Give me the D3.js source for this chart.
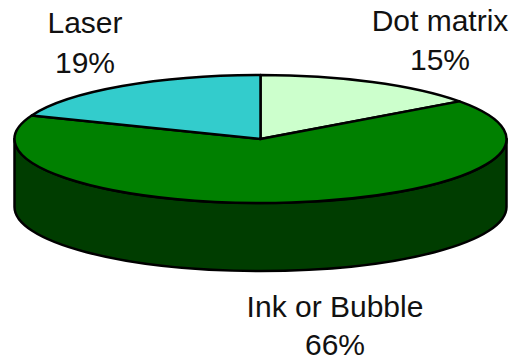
<!DOCTYPE html>
<html><head><meta charset="utf-8">
<script src="https://d3js.org/d3.v7.min.js"></script>
<style>html,body{margin:0;padding:0;background:#fff}svg{display:block}text{font-family:"Liberation Sans",Arial,sans-serif;font-size:30px;fill:#111}</style>
</head><body><script>
const categories = ["Dot matrix", "Ink or Bubble", "Laser"];
const values = [15, 66, 19];
const colors = ["#ccffcc", "#008000", "#33cccc"];
const sideColor = "#003d00";
const labelLines = [["Dot matrix","15%"],["Ink or Bubble","66%"],["Laser","19%"]];

const W=512,H=361,cx=260.5,cy=139,rx=246,ry=64,depth=68;
const svg=d3.select("body").append("svg").attr("width",W).attr("height",H);

svg.append("path")
  .attr("d",`M${cx-rx},${cy}A${rx},${ry} 0 0 0 ${cx+rx},${cy}L${cx+rx},${cy+depth}A${rx},${ry} 0 0 1 ${cx-rx},${cy+depth}Z`)
  .attr("fill",sideColor).attr("stroke","#000").attr("stroke-width",2.5).attr("stroke-linejoin","round");

const pie=d3.pie().sort(null).value(d=>d);
const arc=d3.arc().innerRadius(0).outerRadius(1);
const g=svg.append("g").attr("transform",`translate(${cx},${cy}) scale(${rx},${ry})`);
g.selectAll("path").data(pie(values)).join("path")
  .attr("d",arc).attr("fill",(d,i)=>colors[i])
  .attr("stroke","#000").attr("stroke-width",2.5)
  .attr("vector-effect","non-scaling-stroke").attr("stroke-linejoin","round");

const labelPos=[[440,31,70],[335,317,354.5],[85,33,73]];
labelLines.forEach((lines,i)=>{
  lines.forEach((t,j)=>{
    svg.append("text").attr("x",labelPos[i][0]).attr("y",labelPos[i][j+1])
      .attr("text-anchor","middle").text(t);
  });
});
</script></body></html>
